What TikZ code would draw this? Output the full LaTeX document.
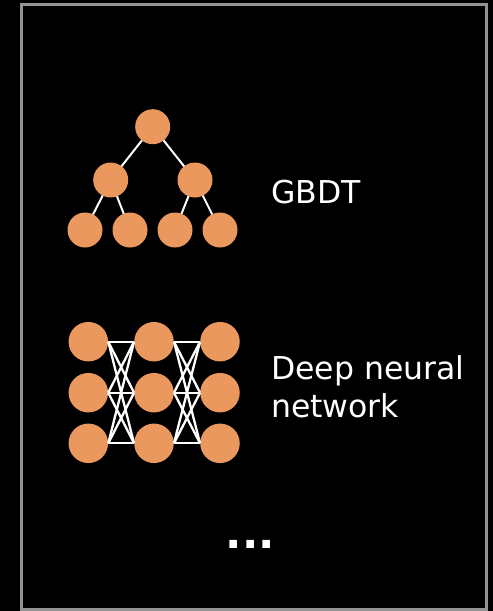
\documentclass[tikz,border=0pt]{standalone}
\usepackage{fontspec}
\setmainfont{DejaVu Sans}
\newfontfamily\dotsfont{DejaVu Sans Bold}
\definecolor{unit}{HTML}{EB985F}
\definecolor{frame}{HTML}{939393}
\begin{document}
\begin{tikzpicture}[x=1pt,y=-1pt,
  treenode/.style={circle,fill=unit,minimum size=35pt,inner sep=0pt},
  neuron/.style={circle,fill=unit,minimum size=39.5pt,inner sep=0pt},
  link/.style={draw=white,line width=2.3pt},
  label/.style={anchor=base west,inner sep=0pt,text=white,font=\fontsize{31.5}{38}\selectfont}]
  % canvas and frame
  \fill[black] (0,0) rectangle (493,611);
  \useasboundingbox (0,0) rectangle (493,611);
  \draw[frame,line width=3.5pt] (21.5,4.5) rectangle (486.5,610);

  % decision tree: edges first, then the nodes over them
  \coordinate (r)  at (152.7,126.7);
  \coordinate (l)  at (110.7,180);
  \coordinate (rr) at (195,180);
  \coordinate (a)  at (85,230);
  \coordinate (b)  at (130,230);
  \coordinate (c)  at (175,230);
  \coordinate (d)  at (220,230);
  \draw[link,line width=2pt] (r) -- (l) (r) -- (rr)
        (l) -- (a) (l) -- (b) (rr) -- (c) (rr) -- (d);
  \foreach \n in {r,l,rr,a,b,c,d}{\node[treenode] (t\n) at (\n) {};}
  \node[label] (gbdt) at (271,203.3) {GBDT};

  % neural network
  \foreach \c/\x in {1/88.3,2/154,3/220}{
    \foreach \r/\y in {1/341.7,2/392.7,3/443.3}{
      \node[neuron] (n\c\r) at (\x,\y) {};
    }
  }
  \foreach \i in {1,2,3}{
    \foreach \j in {1,2,3}{
      \draw[link] (n1\i.east) -- (n2\j.west);
      \draw[link] (n2\i.east) -- (n3\j.west);
    }
  }
  \node[label] (dnn1) at (271,379) {Deep neural};
  \node[label] (dnn2) at (271,417) {network};

  % more models
  \node[anchor=base,inner sep=0pt,text=white,font=\dotsfont\fontsize{43}{43}\selectfont]
    (more) at (250.5,548.3) {...};
\end{tikzpicture}
\end{document}
